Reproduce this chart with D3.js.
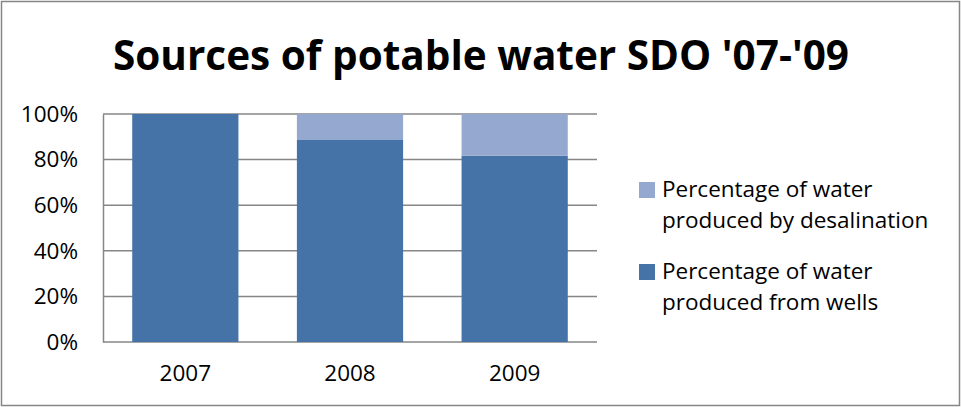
<!DOCTYPE html>
<html>
<head>
<meta charset="utf-8">
<script src="https://cdn.jsdelivr.net/npm/d3@7"></script>
<style>
body { margin: 0; background: #fff; }
svg { display: block; font-family: "Open Sans", sans-serif; }
</style>
</head>
<body>
<div id="chart"></div>
<script>
//Chart data
var years = ["2007", "2008", "2009"];
var wells = [1.00, 0.886, 0.817];
var desalination = [0.00, 0.114, 0.183];
var yTicks = [0, 0.2, 0.4, 0.6, 0.8, 1.0];
var seriesNames = ["Percentage of water produced from wells", "Percentage of water produced by desalination"];
var seriesColors = ["#4572a7", "#95a9d0"];

var width = 961, height = 407;
var margin = {top: 114, right: 364, bottom: 65, left: 103};

var svg = d3.select("#chart")
    .append("svg")
    .attr("width", width)
    .attr("height", height);

//Outer border
svg.append("rect")
    .attr("x", 1.5).attr("y", 1.5)
    .attr("width", width - 3).attr("height", height - 3)
    .attr("fill", "none")
    .attr("stroke", "#868686")
    .attr("stroke-width", 1.5);

//Title
svg.append("text")
    .attr("x", 481)
    .attr("y", 70)
    .attr("text-anchor", "middle")
    .attr("font-size", 40.5)
    .attr("font-weight", "bold")
    .attr("fill", "#000")
    .text("Sources of potable water SDO '07-'09");

var x = d3.scaleBand()
    .domain(years)
    .range([margin.left, width - margin.right])
    .paddingInner(0.355)
    .paddingOuter(0.1775);

var y = d3.scaleLinear()
    .domain([0, 1])
    .range([height - margin.bottom, margin.top]);

//Gridlines
svg.append("g")
    .selectAll("line")
    .data(yTicks)
    .enter()
    .append("line")
    .attr("x1", margin.left)
    .attr("x2", width - margin.right)
    .attr("y1", function(d) { return y(d); })
    .attr("y2", function(d) { return y(d); })
    .attr("stroke", "#868686")
    .attr("stroke-width", 1.5);

//Y axis
var yAxis = svg.append("g")
    .attr("transform", "translate(" + margin.left + ",0)")
    .call(d3.axisLeft(y).tickValues(yTicks).tickFormat(d3.format(".0%")).tickSize(0).tickPadding(25))
    .attr("font-family", null)
    .attr("font-size", 22.5);
yAxis.select(".domain").attr("stroke", "#868686").attr("stroke-width", 1.5);
yAxis.selectAll("text").attr("fill", "#000");

//Stacked bars
var table = years.map(function(d, i) {
    return {year: d, wells: wells[i], desal: desalination[i]};
});
var stack = d3.stack().keys(["wells", "desal"])(table);

svg.append("g")
    .selectAll("g")
    .data(stack)
    .enter()
    .append("g")
    .attr("fill", function(d, i) { return seriesColors[i]; })
    .selectAll("rect")
    .data(function(d) { return d; })
    .enter()
    .append("rect")
    .attr("x", function(d) { return x(d.data.year); })
    .attr("width", x.bandwidth())
    .attr("y", function(d) { return y(d[1]); })
    .attr("height", function(d) { return y(d[0]) - y(d[1]); });

//X axis
var xAxis = svg.append("g")
    .attr("transform", "translate(0," + (height - margin.bottom) + ")")
    .call(d3.axisBottom(x).tickSize(0).tickPadding(23))
    .attr("font-family", null)
    .attr("font-size", 22.5);
xAxis.select(".domain").remove();
xAxis.selectAll("text").attr("fill", "#000");

//Legend (desalination on top)
var legendItems = [
    {lines: ["Percentage of water", "produced by desalination"], color: seriesColors[1], y: 182},
    {lines: ["Percentage of water", "produced from wells"], color: seriesColors[0], y: 264}
];

var legend = svg.append("g")
    .selectAll("g")
    .data(legendItems)
    .enter()
    .append("g")
    .attr("transform", function(d) { return "translate(639," + d.y + ")"; });

legend.append("rect")
    .attr("width", 16)
    .attr("height", 16)
    .attr("fill", function(d) { return d.color; });

legend.append("text")
    .attr("x", 23)
    .attr("y", 15)
    .attr("font-size", 22.5)
    .attr("fill", "#000")
    .selectAll("tspan")
    .data(function(d) { return d.lines; })
    .enter()
    .append("tspan")
    .attr("x", 23)
    .attr("dy", function(d, i) { return i == 0 ? 0 : 31; })
    .text(function(d) { return d; });
</script>
</body>
</html>
